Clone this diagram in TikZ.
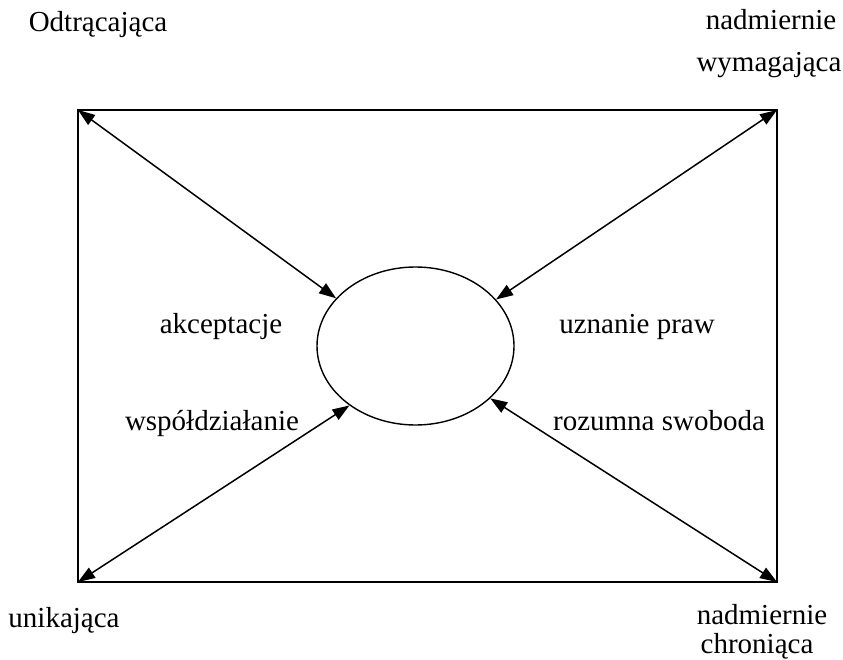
\documentclass[tikz,border=0pt]{standalone}
\usepackage{fontspec}
\setmainfont{Liberation Serif}
\usetikzlibrary{arrows.meta,shapes.geometric}
\tikzset{
  lbl/.style={anchor=base, inner sep=0pt, font=\fontsize{29}{35}\selectfont},
  frame/.style={draw=black, line width=1.6pt},
  dbl/.style={line width=1.5pt, {Triangle[length=17pt,width=12pt]}-{Triangle[length=17pt,width=12pt]}},
}
\begin{document}
\begin{tikzpicture}[x=1pt,y=-1pt]
\useasboundingbox (0,0) rectangle (843,660);
% frame corners
\coordinate (tl) at (78,110);
\coordinate (tr) at (777,110);
\coordinate (bl) at (78,582);
\coordinate (br) at (777,582);
\draw[frame] (tl) -- (tr) -- (br) -- (bl) -- cycle;
% central ellipse
\node[ellipse, draw, line width=1.4pt, minimum width=197pt, minimum height=158pt, inner sep=0pt] (e) at (415.5,346) {};
% arrows
\draw[dbl] (tl) -- (e.149);
\draw[dbl] (tr) -- (e.30);
\draw[dbl] (bl) -- (e.222);
\draw[dbl] (br) -- (e.325);
% labels
\node[lbl] (odt) at (98,32) {Odtrącająca};
\node[lbl] (nad1) at (771,30) {nadmiernie};
\node[lbl] (wym) at (769,72) {wymagająca};
\node[lbl] (akc) at (221,333) {akceptacje};
\node[lbl] (uzn) at (637,333) {uznanie praw};
\node[lbl] (wsp) at (212,430) {współdziałanie};
\node[lbl] (roz) at (659,430) {rozumna swoboda};
\node[lbl] (uni) at (64,627) {unikająca};
\node[lbl] (nad2) at (762,624) {nadmiernie};
\node[lbl] (chr) at (757,653) {chroniąca};
\end{tikzpicture}
\end{document}
